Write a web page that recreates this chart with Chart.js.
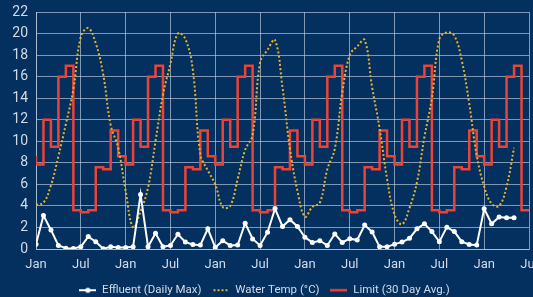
<!DOCTYPE html>
<html>
<head>
<meta charset="utf-8">
<script src="https://cdn.jsdelivr.net/npm/chart.js@4.4.1/dist/chart.umd.min.js"></script>
<style>
  html, body { margin: 0; padding: 0; background: #03305f; }
  #wrap { width: 533px; height: 297px; position: relative; }
</style>
</head>
<body>
<div id="wrap"><canvas id="chart"></canvas></div>
<script>
// x axis is months counted from the first January, labelled every 6 months
const tickLabels = ['Jan', 'Jul', 'Jan', 'Jul', 'Jan', 'Jul', 'Jan', 'Jul', 'Jan', 'Jul', 'Jan', 'Jul'];

const seriesNames = ['Effluent (Daily Max)', 'Water Temp (°C)', 'Limit (30 Day Avg.)'];

// effluent, one reading per month (months 0..64)
const effluent = [
    0.45, 3.1, 1.77, 0.33, 0.08, 0.05, 0.2, 1.15, 0.68, 0.02, 0.2, 0.14,
    0.14, 0.2, 5.07, 0.2, 1.46, 0.2, 0.33, 1.37, 0.64, 0.42, 0.36, 1.87,
    0.14, 0.77, 0.33, 0.36, 2.4, 0.93, 0.33, 1.56, 3.75, 2.09, 2.72, 2.09,
    1.08, 0.61, 0.77, 0.33, 1.4, 0.61, 0.96, 0.83, 2.22, 1.58, 0.2, 0.2,
    0.45, 0.64, 0.99, 1.87, 2.34, 1.62, 0.68, 2.03, 1.62, 0.68, 0.42, 0.36,
    3.73, 2.34, 2.97, 2.91, 2.91
];

// water temperature, monthly (months 0..64)
const waterTemp = [
    4.1, 4.3, 5.9, 8.6, 11.6, 14.8, 19.7, 20.5, 19.1, 16.2, 11.5, 9.4,
    5.4, 2.0, 3.5, 5.7, 10.0, 14.3, 17.2, 20.0, 19.5, 16.6, 8.8, 7.3,
    6.0, 3.9, 4.0, 6.5, 9.2, 10.6, 17.3, 18.5, 19.4, 15.0, 9.3, 5.4,
    3.0, 3.9, 4.3, 7.4, 9.3, 14.5, 18.0, 18.8, 19.4, 15.0, 11.2, 6.5,
    3.2, 2.3, 3.8, 6.2, 10.4, 14.0, 19.5, 20.1, 19.8, 17.5, 13.5, 8.7,
    5.8, 4.2, 4.0, 5.8, 9.4
];

// 30 day limit, value at month i covers month i-1 .. i (months 0..66)
const limit = [
    8.6,
    7.85, 12, 9.5, 16, 17, 3.6, 3.4, 3.6, 7.6, 7.4, 11, 8.6,
    7.85, 12, 9.5, 16, 17, 3.6, 3.4, 3.6, 7.6, 7.4, 11, 8.6,
    7.85, 12, 9.5, 16, 17, 3.6, 3.4, 3.6, 7.6, 7.4, 11, 8.6,
    7.85, 12, 9.5, 16, 17, 3.6, 3.4, 3.6, 7.6, 7.4, 11, 8.6,
    7.85, 12, 9.5, 16, 17, 3.6, 3.4, 3.6, 7.6, 7.4, 11, 8.6,
    7.85, 12, 9.5, 16, 17, 3.6
];

const colors = {
    effluent: '#ffffff',
    water:    '#e8b32c',
    limit:    '#ec4337',
    text:     '#d3dae6',
    grid:     'rgba(195, 208, 226, 0.65)',
};

const FONT = 'Roboto, "Liberation Sans", sans-serif';

const toPoints = arr => arr.map((y, i) => ({ x: i, y }));

// small canvases used as legend markers
function makeIcon(kind) {
    const c = document.createElement('canvas');
    c.width = 17; c.height = 8;
    const g = c.getContext('2d');
    if (kind === 'effluent') {
        g.strokeStyle = colors.effluent; g.lineWidth = 2;
        g.beginPath(); g.moveTo(0, 4); g.lineTo(17, 4); g.stroke();
        g.fillStyle = colors.effluent;
        g.beginPath(); g.arc(8.5, 4, 2.6, 0, Math.PI * 2); g.fill();
    } else if (kind === 'water') {
        g.fillStyle = colors.water;
        for (let x = 1; x < 17; x += 4) g.fillRect(x, 3, 2, 2);
    } else {
        g.strokeStyle = colors.limit; g.lineWidth = 2.5;
        g.beginPath(); g.moveTo(0, 4); g.lineTo(17, 4); g.stroke();
    }
    return c;
}
const icons = [makeIcon('effluent'), makeIcon('water'), makeIcon('limit')];

Chart.defaults.font.family = FONT;

new Chart(document.getElementById('chart'), {
    type: 'line',
    data: {
        datasets: [
            {
                label: seriesNames[0],
                data: toPoints(effluent),
                borderColor: colors.effluent,
                backgroundColor: colors.effluent,
                borderWidth: 2,
                pointRadius: 2.5,
                pointBorderWidth: 0,
                tension: 0,
            },
            {
                label: seriesNames[1],
                data: toPoints(waterTemp),
                borderColor: colors.water,
                borderWidth: 2,
                borderDash: [2, 2.2],
                borderCapStyle: 'butt',
                pointRadius: 0,
                tension: 0.4,
            },
            {
                label: seriesNames[2],
                data: toPoints(limit),
                borderColor: colors.limit,
                borderWidth: 2.5,
                stepped: 'after',
                pointRadius: 0,
            },
        ],
    },
    options: {
        responsive: true,
        maintainAspectRatio: false,
        animation: false,
        layout: { padding: { top: 12, right: 4, left: 0, bottom: -9 } },
        scales: {
            x: {
                type: 'linear',
                min: 0,
                max: 66,
                grid: { color: colors.grid, drawTicks: false },
                border: { color: colors.grid },
                ticks: {
                    stepSize: 6,
                    autoSkip: false,
                    maxRotation: 0,
                    padding: 8,
                    color: colors.text,
                    font: { size: 13 },
                    callback: (v) => tickLabels[Math.round(v / 6)],
                },
                afterFit: (scale) => {
                    scale.paddingRight = 0;
                    scale.paddingLeft = 0;
                    scale.height = 24.5;
                },
            },
            y: {
                min: 0,
                max: 22,
                grid: { color: colors.grid, drawTicks: false },
                border: { color: colors.grid },
                ticks: {
                    stepSize: 2,
                    autoSkip: false,
                    padding: 8,
                    color: colors.text,
                    font: { size: 14 },
                },
                afterFit: (scale) => {
                    scale.width = 36;
                    scale.paddingTop = 0;
                    scale.paddingBottom = 0;
                },
            },
        },
        plugins: {
            tooltip: { enabled: false },
            legend: {
                position: 'bottom',
                labels: {
                    color: colors.text,
                    font: { size: 11.5 },
                    usePointStyle: true,
                    pointStyleWidth: 17,
                    boxHeight: 8,
                    padding: 11,
                    generateLabels: (chart) => seriesNames.map((name, i) => ({
                        text: name,
                        pointStyle: icons[i],
                        fontColor: colors.text,
                        fillStyle: 'transparent',
                        strokeStyle: 'transparent',
                        lineWidth: 0,
                        hidden: false,
                        datasetIndex: i,
                    })),
                },
            },
        },
    },
});
</script>
</body>
</html>
